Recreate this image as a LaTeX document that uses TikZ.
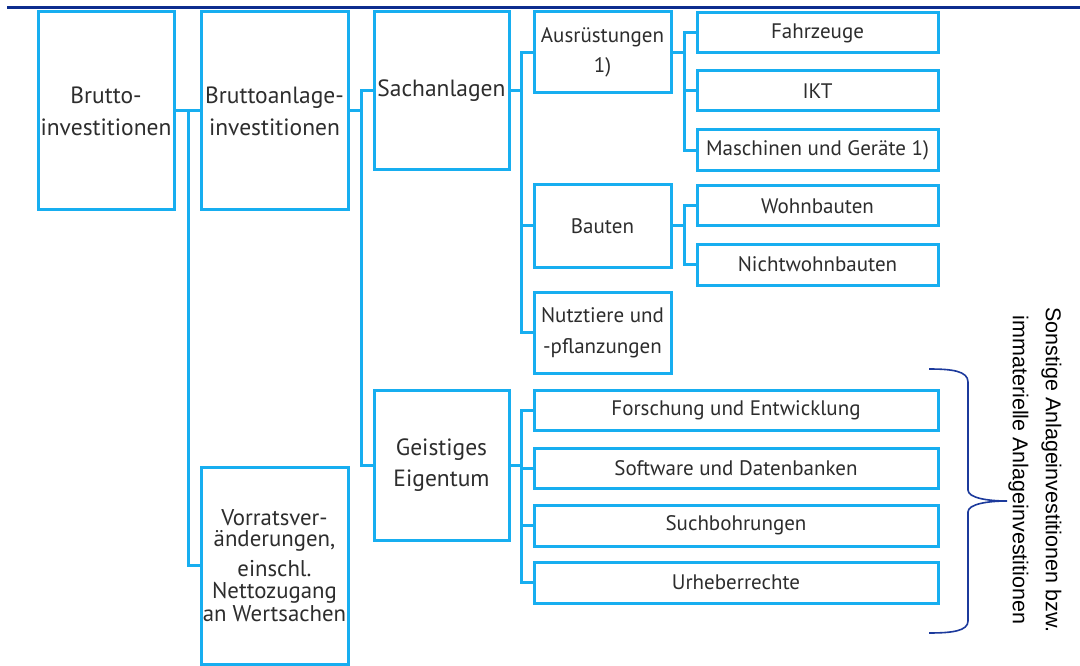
\documentclass[tikz,border=0pt]{standalone}
\usepackage{fontspec}
\setmainfont{PT Sans}
\newfontfamily\arialfont{Liberation Sans}
\definecolor{boxblue}{HTML}{17AEF0}
\definecolor{darkblue}{HTML}{0D2D8E}
\definecolor{bracecol}{HTML}{1C3A9C}
\definecolor{txt}{HTML}{2D2D2D}
\begin{document}
\begin{tikzpicture}[x=1pt,y=-1pt,
  box/.style={draw=boxblue, line width=3pt, fill=white, inner sep=0pt, align=center,
    text=txt, font=\fontsize{21}{24}\selectfont},
  bigtext/.style={font=\fontsize{23.5}{24}\selectfont},
  conn/.style={draw=boxblue, line width=3pt},
  topline/.style={draw=darkblue, line width=2.5pt},
  bracestyle/.style={draw=bracecol, line width=1.6pt},
  note/.style={rotate=-90, align=center, text=black, font=\arialfont\fontsize{21.5}{33}\selectfont}
]
\useasboundingbox (0,0) rectangle (1080,666);
\fill[white] (0,0) rectangle (1080,666);

\draw[topline] (7,7.5) -- (1080,7.5);

% column 1
\node[box, bigtext, minimum width=136pt, minimum height=198pt] (b1) at (106,111) {Brutto-\\[8pt]investitionen};
% column 2
\node[box, bigtext, minimum width=147pt, minimum height=198pt] (b2) at (274.5,111) {Bruttoanlage-\\[8pt]investitionen};
\node[box, minimum width=147pt, minimum height=197pt, font=\fontsize{22.8}{22.5}\selectfont] (vor) at (274.5,565.5)
  {Vorratsver-\\[-1.5pt]änderungen,\\[7.5pt]einschl.\\Nettozugang\\an Wertsachen};
% column 3
\node[box, bigtext, minimum width=135pt, minimum height=158pt] (sach) at (441.5,91) {Sachanlagen};
\node[box, bigtext, minimum width=135pt, minimum height=150pt] (geist) at (441.5,465) {Geistiges\\[7pt]Eigentum};
% column 4
\node[box, minimum width=137pt, minimum height=81pt] (aus) at (602.5,52.5) {Ausrüstungen\\[6pt]1)};
\node[box, minimum width=137pt, minimum height=82pt] (bau) at (602.5,226) {Bauten};
\node[box, minimum width=137pt, minimum height=81pt] (nutz) at (602.5,332.5) {Nutztiere und\\[7pt]-pflanzungen};
% column 5
\node[box, minimum width=241pt, minimum height=40pt] (fahr) at (817.5,33) {Fahrzeuge};
\node[box, minimum width=241pt, minimum height=40pt] (ikt) at (817.5,91) {IKT};
\node[box, minimum width=241pt, minimum height=41pt] (masch) at (817.5,150.5) {Maschinen und Geräte 1)};
\node[box, minimum width=241pt, minimum height=40pt] (wohn) at (817.5,206) {Wohnbauten};
\node[box, minimum width=241pt, minimum height=41pt] (nicht) at (817.5,264.5) {Nichtwohnbauten};
% wide boxes
\node[box, minimum width=404pt, minimum height=40pt] (fue) at (736,410) {Forschung und Entwicklung};
\node[box, minimum width=404pt, minimum height=40pt] (soft) at (736,468) {Software und Datenbanken};
\node[box, minimum width=404pt, minimum height=41pt] (such) at (736,525.5) {Suchbohrungen};
\node[box, minimum width=404pt, minimum height=41pt] (urh) at (736,582.5) {Urheberrechte};

% junctions
\coordinate (j1) at (188,111);
\coordinate (j2) at (361,111);
\coordinate (j3) at (521,91);
\coordinate (j4) at (684,52.5);
\coordinate (j5) at (684,226);
\coordinate (j6) at (521,465);

% connectors
\draw[conn] (b1.east) -- (b2.west);
\draw[conn] (vor.west) -| (j1);
\draw[conn] (b2.east) -- (j2);
\draw[conn] (sach.west) -| (j2);
\draw[conn] (geist.west) -| (j2);
\draw[conn] (sach.east) -- (j3);
\draw[conn] (aus.west) -| (j3);
\draw[conn] (bau.west) -| (j3);
\draw[conn] (nutz.west) -| (j3);
\draw[conn] (aus.east) -- (j4);
\draw[conn] (fahr.west) -| (j4);
\draw[conn] (ikt.west) -| (j4);
\draw[conn] (masch.west) -| (j4);
\draw[conn] (bau.east) -- (j5);
\draw[conn] (wohn.west) -| (j5);
\draw[conn] (nicht.west) -| (j5);
\draw[conn] (geist.east) -- (j6);
\draw[conn] (fue.west) -| (j6);
\draw[conn] (soft.west) -| (j6);
\draw[conn] (such.west) -| (j6);
\draw[conn] (urh.west) -| (j6);

% brace
\draw[bracestyle] (929,369) .. controls (952,369) and (968,371) .. (968,382)
  -- (968,490) .. controls (968,498) and (988,501) .. (1007,501)
  .. controls (988,501) and (968,504) .. (968,512)
  -- (968,621) .. controls (968,631) and (952,633) .. (929,633);

\node[note] (lbl) at (1035,470) {Sonstige Anlageinvestitionen bzw.\\immaterielle Anlageinvestitionen};
\end{tikzpicture}
\end{document}
